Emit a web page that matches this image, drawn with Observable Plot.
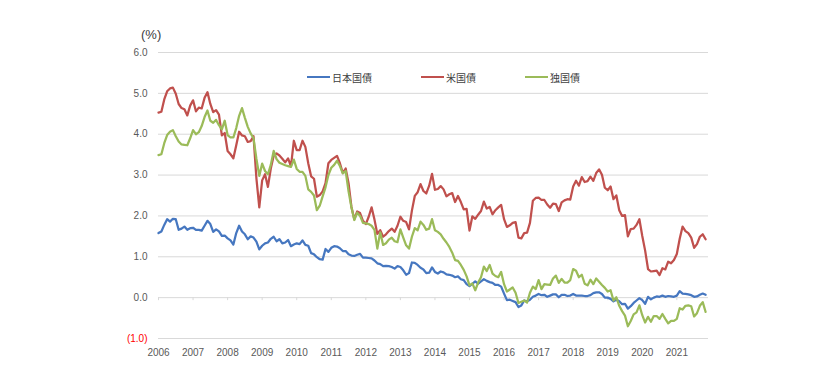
<!DOCTYPE html>
<html><head><meta charset="utf-8">
<script src="https://cdn.jsdelivr.net/npm/d3@7"></script>
<script src="https://cdn.jsdelivr.net/npm/@observablehq/plot@0.6"></script>
<style>
body{margin:0;background:#fff;}
#wrap{position:relative;width:833px;height:376px;}
#wrap svg{position:absolute;left:0;top:0;}
#unit{position:absolute;left:141px;top:27px;font:13px "Liberation Sans",Arial,sans-serif;color:#404040;z-index:2;}
.leg{position:absolute;top:70px;height:14px;display:flex;align-items:center;font:10px "Noto Sans CJK JP",sans-serif;color:#404040;z-index:2;}
.leg i{display:inline-block;width:23px;height:2.5px;margin-right:2px;}
</style></head><body><div id="wrap"></div>
<script>
// Monthly 10-year government bond yields (%), Jan 2006 – Nov 2021
const startYear = 2006;
const years = d3.range(2006, 2022);
const seriesNames = ["日本国債", "米国債", "独国債"];
const seriesColors = ["#4677C0", "#C0504D", "#9BBB59"];
const yTicks = [0, 1, 2, 3, 4, 5, 6];
const yNegTicks = [-1];

const jp = [
  1.58,1.62,1.78,1.92,1.86,1.93,1.92,1.66,1.69,1.74,1.66,1.70,
  1.71,1.66,1.66,1.64,1.76,1.88,1.80,1.61,1.67,1.62,1.51,1.52,
  1.45,1.40,1.30,1.58,1.76,1.62,1.55,1.43,1.50,1.47,1.37,1.18,
  1.27,1.33,1.35,1.44,1.49,1.38,1.43,1.33,1.35,1.41,1.26,1.30,
  1.33,1.31,1.40,1.29,1.27,1.09,1.06,0.99,0.94,0.93,1.19,1.12,
  1.22,1.26,1.25,1.21,1.14,1.14,1.06,1.03,1.02,1.05,1.07,0.98,
  0.98,0.97,0.96,0.91,0.84,0.82,0.77,0.78,0.77,0.75,0.71,0.77,
  0.75,0.67,0.56,0.60,0.86,0.85,0.80,0.73,0.69,0.60,0.61,0.74,
  0.63,0.59,0.64,0.62,0.57,0.56,0.54,0.50,0.52,0.45,0.43,0.33,
  0.28,0.34,0.40,0.34,0.40,0.45,0.41,0.38,0.36,0.31,0.31,0.27,
  0.10,-0.06,-0.05,-0.08,-0.11,-0.23,-0.19,-0.07,-0.09,-0.05,0.02,0.05,
  0.09,0.06,0.07,0.02,0.05,0.08,0.08,0.01,0.07,0.07,0.04,0.05,
  0.09,0.05,0.05,0.05,0.04,0.04,0.06,0.11,0.13,0.13,0.09,0.00,
  0.00,-0.03,-0.09,-0.05,-0.09,-0.16,-0.15,-0.27,-0.21,-0.13,-0.07,-0.01,
  -0.06,-0.15,0.02,-0.04,0.00,0.03,0.02,0.05,0.02,0.04,0.03,0.02,
  0.05,0.16,0.10,0.09,0.08,0.06,0.02,0.03,0.07,0.10,0.07
];
const us = [
  4.53,4.55,4.85,5.05,5.12,5.14,4.99,4.74,4.64,4.61,4.46,4.70,
  4.83,4.56,4.65,4.63,4.89,5.03,4.74,4.54,4.59,4.48,3.97,4.03,
  3.59,3.51,3.41,3.73,4.06,3.97,3.95,3.81,3.83,3.95,2.92,2.21,
  2.87,3.02,2.71,3.16,3.47,3.53,3.48,3.40,3.31,3.41,3.21,3.84,
  3.61,3.61,3.84,3.69,3.29,2.97,2.91,2.47,2.51,2.60,2.80,3.29,
  3.37,3.42,3.47,3.29,3.05,3.16,2.80,2.22,1.92,2.11,2.07,1.88,
  1.80,1.98,2.21,1.91,1.56,1.65,1.49,1.55,1.63,1.69,1.61,1.76,
  1.98,1.88,1.85,1.67,2.13,2.49,2.58,2.78,2.61,2.55,2.74,3.03,
  2.64,2.66,2.73,2.65,2.48,2.53,2.56,2.34,2.49,2.34,2.16,2.17,
  1.64,1.99,1.93,2.03,2.12,2.35,2.18,2.22,2.04,2.14,2.21,2.27,
  1.92,1.73,1.77,1.83,1.85,1.47,1.45,1.58,1.59,1.83,2.37,2.44,
  2.45,2.39,2.39,2.28,2.20,2.30,2.29,2.12,2.33,2.38,2.41,2.40,
  2.72,2.86,2.74,2.95,2.83,2.85,2.96,2.86,3.05,3.14,3.01,2.69,
  2.63,2.72,2.41,2.50,2.14,2.00,2.02,1.50,1.68,1.69,1.78,1.92,
  1.51,1.15,0.70,0.64,0.65,0.66,0.55,0.72,0.69,0.88,0.84,0.92,
  1.07,1.44,1.74,1.63,1.58,1.47,1.22,1.31,1.49,1.55,1.43
];
const de = [
  3.49,3.51,3.78,3.98,4.06,4.10,3.95,3.82,3.75,3.74,3.73,3.90,
  4.10,4.00,4.05,4.20,4.42,4.58,4.33,4.28,4.35,4.22,4.12,4.33,
  3.98,3.92,3.92,4.15,4.45,4.64,4.40,4.18,4.02,3.90,3.40,2.98,
  3.28,3.10,3.02,3.25,3.59,3.39,3.30,3.27,3.24,3.22,3.20,3.38,
  3.15,3.08,3.08,2.98,2.65,2.59,2.50,2.14,2.25,2.48,2.70,3.00,
  3.18,3.25,3.35,3.22,3.04,3.10,2.60,2.21,1.90,2.08,2.00,1.83,
  1.82,1.80,1.76,1.66,1.20,1.60,1.29,1.33,1.42,1.47,1.38,1.36,
  1.67,1.47,1.28,1.20,1.49,1.70,1.65,1.86,1.78,1.66,1.69,1.92,
  1.65,1.61,1.55,1.44,1.35,1.24,1.10,0.92,0.90,0.80,0.68,0.52,
  0.30,0.35,0.18,0.37,0.50,0.76,0.65,0.80,0.59,0.53,0.50,0.63,
  0.33,0.15,0.20,0.25,0.12,-0.13,-0.10,-0.07,-0.12,0.12,0.27,0.21,
  0.43,0.21,0.33,0.32,0.31,0.47,0.54,0.36,0.46,0.37,0.37,0.43,
  0.70,0.66,0.50,0.56,0.34,0.30,0.44,0.33,0.47,0.39,0.31,0.24,
  0.15,0.18,-0.07,0.01,-0.20,-0.33,-0.44,-0.70,-0.57,-0.41,-0.36,-0.19,
  -0.43,-0.61,-0.47,-0.59,-0.45,-0.45,-0.52,-0.40,-0.52,-0.63,-0.57,-0.57,
  -0.52,-0.26,-0.29,-0.20,-0.19,-0.21,-0.46,-0.38,-0.20,-0.11,-0.35
];

const rows = [];
[jp, us, de].forEach((arr, k) => arr.forEach((v, i) => rows.push({t: startYear + i / 12, v, s: seriesNames[k]})));

const fmt = d => d < 0 ? `(${Math.abs(d).toFixed(1)})` : d.toFixed(1);

const chart = Plot.plot({
  width: 833, height: 376,
  marginLeft: 158, marginRight: 125, marginTop: 52, marginBottom: 38,
  x: {domain: [2006, 2006 + 191 / 12]},
  y: {domain: [-1, 6]},
  color: {domain: seriesNames, range: seriesColors},
  style: {fontFamily: '"Liberation Sans", Arial, sans-serif', fontSize: "10px", color: "#595959", background: "white"},
  marks: [
    Plot.ruleY(yNegTicks.concat(yTicks), {stroke: "#d9d9d9", strokeWidth: 1}),
    Plot.ruleX(years, {x: d => d, y1: 0, y2: 0, insetBottom: -3, stroke: "#d9d9d9"}),
    Plot.axisY(yTicks, {tickSize: 0, tickPadding: 11, tickFormat: fmt, label: null, fill: "#595959"}),
    Plot.axisY(yNegTicks, {tickSize: 0, tickPadding: 11, tickFormat: fmt, label: null, fill: "#FF0000"}),
    Plot.axisX(years, {tickSize: 0, tickPadding: 10, tickFormat: d => String(d), label: null, fill: "#595959"}),
    Plot.line(rows, {x: "t", y: "v", z: "s", stroke: "s", strokeWidth: 2.25, strokeLinejoin: "round"})
  ]
});
const wrap = document.getElementById("wrap");
wrap.appendChild(chart);

const unit = document.createElement("div");
unit.id = "unit"; unit.textContent = "(%)";
wrap.appendChild(unit);

const legLeft = [307, 421, 525];
seriesNames.forEach((name, k) => {
  const d = document.createElement("div");
  d.className = "leg";
  d.style.left = legLeft[k] + "px";
  d.innerHTML = `<i style="background:${seriesColors[k]}"></i><span>${name}</span>`;
  wrap.appendChild(d);
});
</script></body></html>
